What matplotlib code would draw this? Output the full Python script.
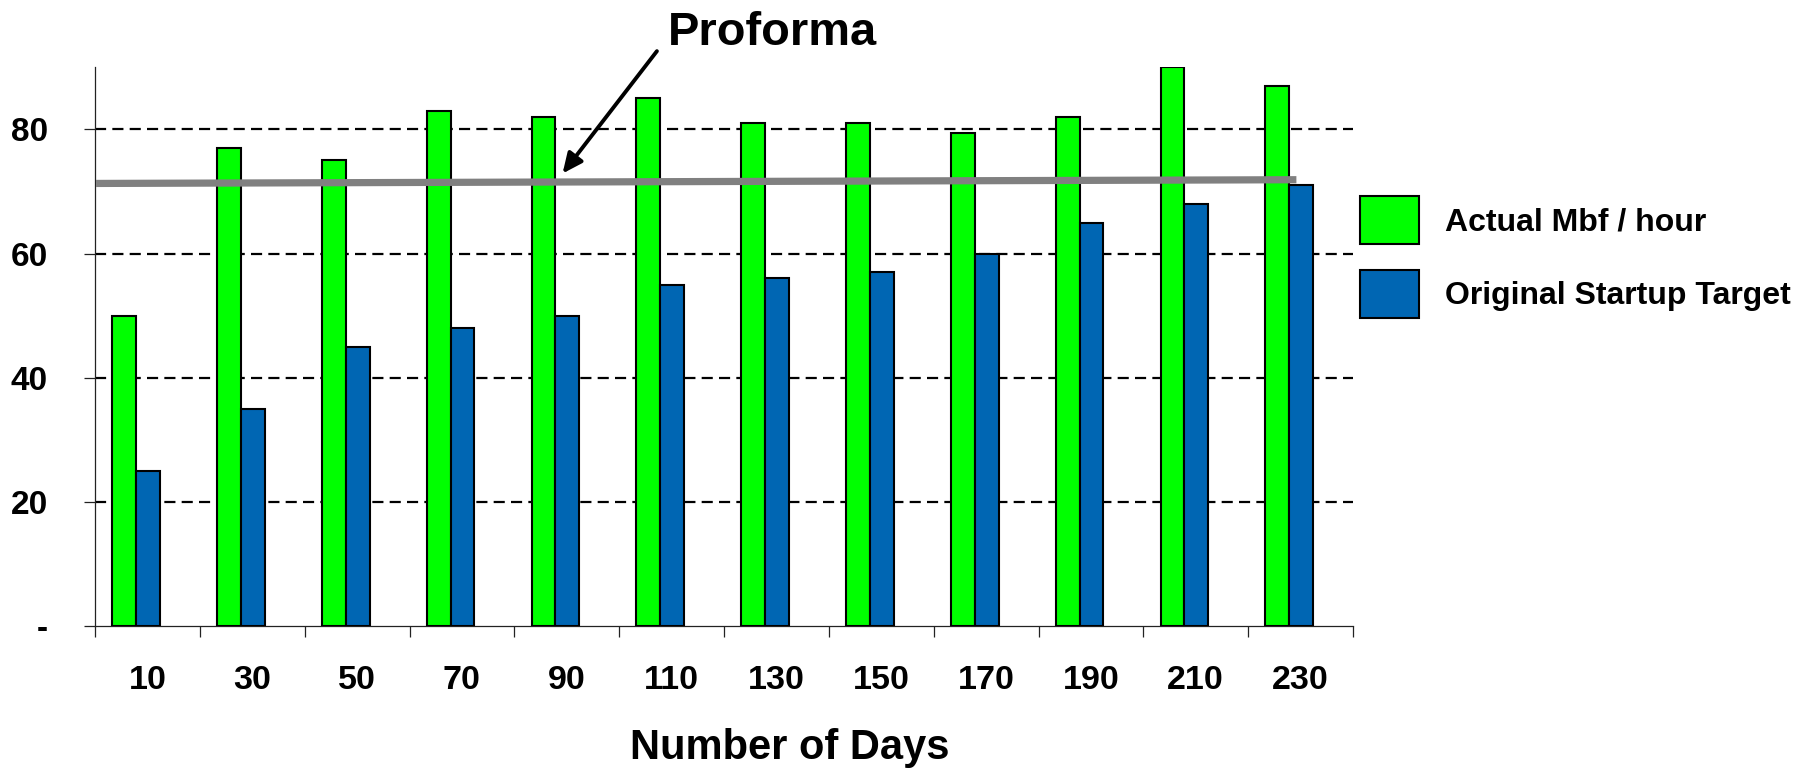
import matplotlib
matplotlib.use("Agg")
import matplotlib.pyplot as plt
from matplotlib.patches import Patch
import numpy as np

# ---- data ----
days = ["10", "30", "50", "70", "90", "110", "130", "150", "170", "190", "210", "230"]
actual_mbf = [50, 77, 75, 83, 82, 85, 81, 81, 79.5, 82, 90, 87]
startup_target = [25, 35, 45, 48, 50, 55, 56, 57, 60, 65, 68, 71]
proforma = [71.3, 71.9]          # start / end level of the proforma line
y_ticks = [0, 20, 40, 60, 80]
y_tick_labels = ["-", "20", "40", "60", "80"]

GREEN = "#00ff00"
BLUE = "#0066b3"
FONT = "Liberation Sans"

plt.rcParams["font.family"] = [FONT, "DejaVu Sans"]
plt.rcParams["font.weight"] = "bold"

W, H = 1802, 769
fig = plt.figure(figsize=(W / 100, H / 100), dpi=100)

# axes box in pixels: x 95..1353, y 67..626 (from top)
L, R, T, B = 95, 1353, 67.3, 626.3
ax = fig.add_axes([L / W, 1 - B / H, (R - L) / W, (B - T) / H])

n = len(days)
x = np.arange(n)
bw = 0.227

ax.bar(x - bw + 0.005, actual_mbf, width=bw, color=GREEN, edgecolor="black",
       linewidth=1.5, zorder=3, label="Actual Mbf / hour")
ax.bar(x + 0.005, startup_target, width=bw, color=BLUE, edgecolor="black",
       linewidth=1.5, zorder=3, label="Original Startup Target")

# proforma reference line
ax.plot([-0.49, 10.96], proforma, color="#808080", linewidth=5.2,
        solid_capstyle="butt", zorder=4)

ax.set_xlim(-0.5, n - 0.5)
ax.set_ylim(0, 90)

# dashed horizontal grid
for yv in y_ticks[1:]:
    ax.axhline(yv, color="black", linewidth=1.6, linestyle=(0, (5.0, 2.8)), zorder=1)

# spines
for s in ("top", "right"):
    ax.spines[s].set_visible(False)
for s in ("left", "bottom"):
    ax.spines[s].set_linewidth(0.9)
    ax.spines[s].set_color("#222222")

# y axis
ax.set_yticks(y_ticks)
ax.set_yticklabels(y_tick_labels)
ax.tick_params(axis="y", direction="out", length=8, width=0.9, pad=26,
               labelsize=24, color="#222222")

# x axis: labels at centres, tick marks at category boundaries
ax.set_xticks(x)
ax.set_xticklabels(days)
ax.tick_params(axis="x", which="major", length=0, pad=28, labelsize=24.5)
ax.set_xticks(np.arange(-0.5, n, 1.0), minor=True)
ax.tick_params(axis="x", which="minor", direction="out", length=8, width=0.9,
               color="#222222")
for lab in ax.get_xticklabels() + ax.get_yticklabels():
    lab.set_fontweight("bold")

fig.text(790 / W, 1 - 748 / H, "Number of Days", ha="center", va="center",
         fontsize=30, fontweight="bold")

# annotation with arrow pointing at the proforma line
fig.text(668 / W, 1 - 45 / H, "Proforma", ha="left", va="baseline",
         fontsize=33.8, fontweight="bold")
ax.annotate("", xy=(3.96, 72.9), xytext=(4.86, 92.6),
            xycoords="data", textcoords="data", annotation_clip=False,
            arrowprops=dict(arrowstyle="-|>,head_length=1.2,head_width=0.55",
                            color="black", lw=2.8, shrinkA=0, shrinkB=0),
            zorder=6)

handles = [Patch(facecolor=GREEN, edgecolor="black", linewidth=1.5),
           Patch(facecolor=BLUE, edgecolor="black", linewidth=1.5)]
fs = 23
em = fs / 0.72
box_w, box_h, gap = 59, 48, 26
# legend handle box height = fs*hh - 0.35*fs*(hh-0.7)
hh = (box_h / em - 0.245) / 0.65
fig.legend(handles, ["Actual Mbf / hour", "Original Startup Target"],
           loc="upper left", bbox_to_anchor=(1360 / W, 1 - 196 / H),
           bbox_transform=fig.transFigure, frameon=False,
           prop=dict(family=FONT, weight="bold", size=fs),
           handlelength=box_w / em, handleheight=hh,
           handletextpad=gap / em, labelspacing=26 / em,
           borderpad=0, borderaxespad=0)

fig.savefig("out.png", dpi=100)
